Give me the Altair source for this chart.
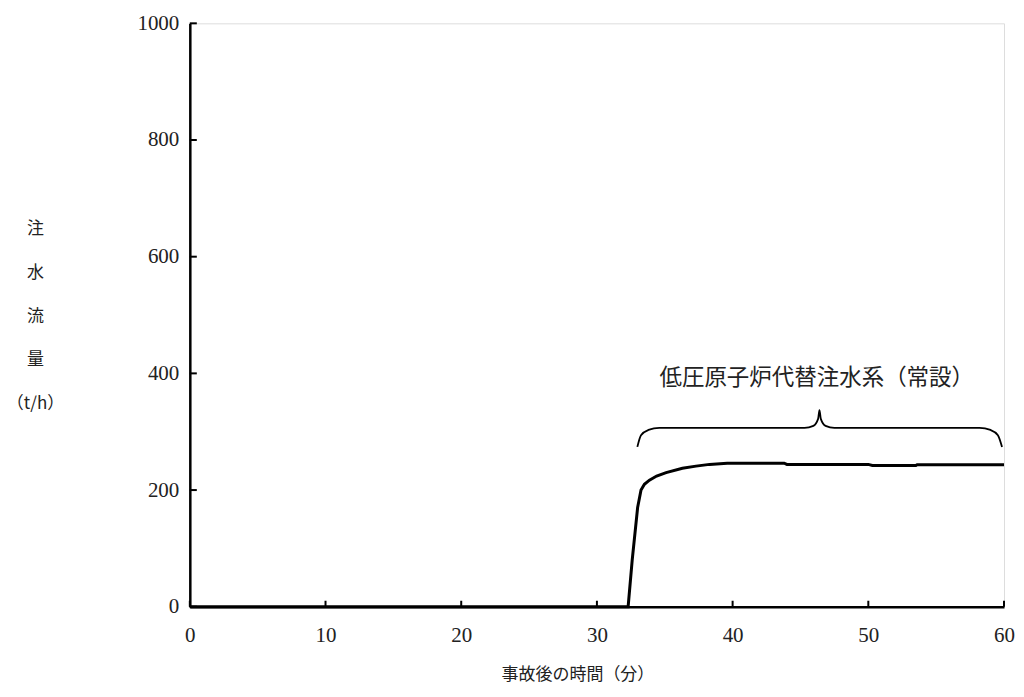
import altair as alt
import pandas as pd

# flow curve (min, t/h)
t_min = [0, 32.3, 32.6, 33.0, 33.25, 33.5, 33.87, 34.4, 35.1, 36.3, 37.3, 38.3, 39.6, 43.8, 44.0, 50.0, 50.3, 53.5, 53.6, 60.0]
flow = [0, 0, 80, 170, 200, 210, 217, 224, 230, 237.5, 241, 244, 246, 246, 244, 244, 242, 242, 243.5, 243.5]

# brace annotation
brace_x = [32.98, 33.25, 33.8, 34.6, 45.3, 45.95, 46.3, 46.4, 46.5, 46.85, 47.5, 58.2, 59.0, 59.55, 59.85]
brace_y = [274, 294, 303, 306.5, 306.5, 310, 322, 337, 322, 310, 306.5, 306.5, 303, 294, 274]

label_text = ["低圧原子炉代替注水系（常設）"]
label_x = [46.2]
label_y = [392]

x_ticks = [0, 10, 20, 30, 40, 50, 60]
y_ticks = [0, 200, 400, 600, 800, 1000]

W, H = 815, 584
serif = "Liberation Serif"
cjk = "Noto Sans CJK JP"

df = pd.DataFrame({"t": t_min, "q": flow})
bdf = pd.DataFrame({"t": brace_x, "q": brace_y})
ldf = pd.DataFrame({"t": label_x, "q": label_y, "s": label_text})
xt = pd.DataFrame({"v": x_ticks})
yt = pd.DataFrame({"v": y_ticks})

xscale = alt.Scale(domain=[0, 60], nice=False)
yscale = alt.Scale(domain=[0, 1000], nice=False)

xaxis = alt.Axis(values=x_ticks, format="d", labelPadding=18,
                 title="事故後の時間（分）", titleX=388, titleY=68, titleBaseline="middle",
                 titleAnchor="start", titleAlign="center")
yaxis = alt.Axis(values=y_ticks, format="d", labelPadding=11,
                 title=["注", "水", "流", "量", "（t/h）"], titleAngle=0, titleX=-155, titleY=205,
                 titleAlign="center", titleBaseline="middle", titleLineHeight=44, titleAnchor="start")

line = alt.Chart(df).mark_line(color="black", strokeWidth=3).encode(
    x=alt.X("t:Q", scale=xscale, axis=xaxis),
    y=alt.Y("q:Q", scale=yscale, axis=yaxis),
)

brace = alt.Chart(bdf).mark_line(color="black", strokeWidth=1.8, interpolate="monotone").encode(
    x=alt.X("t:Q", scale=xscale, axis=xaxis), y=alt.Y("q:Q", scale=yscale, axis=yaxis)
)

label = alt.Chart(ldf).mark_text(font=cjk, fontSize=22.5, color="#222", baseline="middle", align="center").encode(
    x=alt.X("t:Q", scale=xscale, axis=xaxis), y=alt.Y("q:Q", scale=yscale, axis=yaxis), text="s:N"
)

xticks = alt.Chart(xt).mark_rule(color="black", strokeWidth=2).encode(
    x=alt.X("v:Q", scale=xscale, axis=xaxis), y=alt.value(H), y2=alt.value(H - 6)
)
yticks = alt.Chart(yt).mark_rule(color="black", strokeWidth=2).encode(
    y=alt.Y("v:Q", scale=yscale, axis=yaxis), x=alt.value(0), x2=alt.value(7)
)

chart = alt.layer(line, brace, label, xticks, yticks).properties(
    width=W, height=H,
    autosize=alt.AutoSizeParams(type="none"),
    padding={"left": 182, "top": 15, "right": 12, "bottom": 80},
).configure_view(stroke=None).configure(background="white").configure_axis(
    ticks=False, grid=False, labelFont=serif, labelFontSize=21, labelColor="#222",
    labelFlush=False, domainColor="black", domainWidth=2.5,
    titleFont=cjk, titleFontSize=17, titleFontWeight="normal", titleColor="#222",
)

chart.save("out.html", embed_options={"renderer": "svg", "actions": False})
